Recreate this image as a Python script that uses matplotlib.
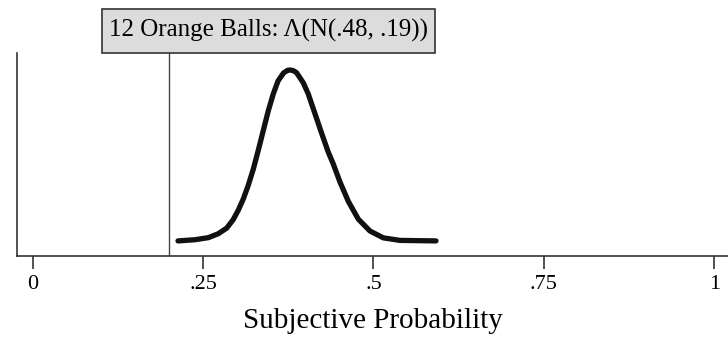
import matplotlib
matplotlib.use('Agg')
from matplotlib import pyplot as plt
from matplotlib.patches import Rectangle

plt.rcParams.update({
    'font.family': ['Liberation Serif', 'DejaVu Serif'],
    'font.size': 15,
    'axes.linewidth': 1.2,
})

# density curve of subjective probability (height scaled so the peak is 1)
prob = [0.2134, 0.2383, 0.2578, 0.2724, 0.2848, 0.2944, 0.3018, 0.3091,
        0.3164, 0.3238, 0.3311, 0.3384, 0.3457, 0.3531, 0.3600, 0.3680,
        0.3740, 0.3776, 0.3820, 0.3870, 0.3910, 0.3971, 0.4044, 0.4142,
        0.4240, 0.4337, 0.4411, 0.4509, 0.4631, 0.4777, 0.4949, 0.5144,
        0.5389, 0.5917]
density = [0.000, 0.007, 0.019, 0.042, 0.075, 0.125, 0.180, 0.245,
           0.325, 0.420, 0.530, 0.645, 0.760, 0.860, 0.935, 0.982,
           0.998, 1.000, 0.997, 0.985, 0.962, 0.925, 0.860, 0.745,
           0.630, 0.520, 0.450, 0.345, 0.232, 0.128, 0.058, 0.018,
           0.003, 0.000]
cutoff = 0.2
tick_vals = [0, 0.25, 0.5, 0.75, 1]
tick_text = ['0', '.25', '.5', '.75', '1']
title = '12 Orange Balls: \u039b(N(.48, .19))'

fig = plt.figure(figsize=(7.28, 3.55), dpi=100)
ax = fig.add_axes([0.0234, 0.279, 0.9766, 0.572])

ax.plot(prob, density, color='#111111', lw=3.8, solid_capstyle='round',
        solid_joinstyle='round')
ax.axvline(cutoff, color='#444444', lw=1.0)

ax.set_xlim(-0.0227, 1.02)
ax.set_ylim(-0.088, 1.10)
ax.set_xticks(tick_vals)
ax.set_xticklabels(tick_text)
ax.set_yticks([])
ax.tick_params(axis='x', direction='out', length=9, width=1.2,
               color='#333333', labelsize=16, pad=5)
for side in ('top', 'right'):
    ax.spines[side].set_visible(False)
for side in ('left', 'bottom'):
    ax.spines[side].set_color('#333333')

ax.set_xlabel('Subjective Probability', fontsize=21, labelpad=10)

# grey title box sitting on top of the plot area
fig.patches.append(Rectangle((0.140, 0.851), 0.457, 0.124,
                             transform=fig.transFigure, facecolor='#dcdcdc',
                             edgecolor='#333333', lw=1.2))
fig.text(0.3685, 0.913, title, ha='center', va='center', fontsize=18)

fig.savefig('out.png', dpi=100)
